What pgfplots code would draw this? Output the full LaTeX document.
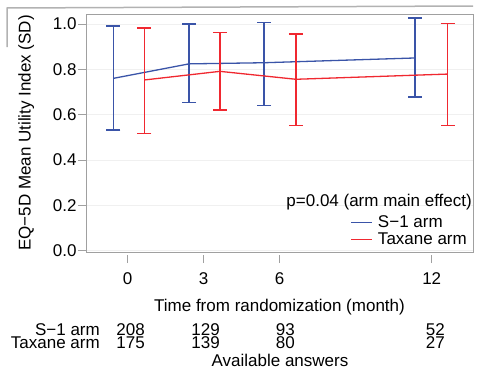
\documentclass[border=0pt]{standalone}
\usepackage{pgfplots}
\pgfplotsset{compat=1.18}
\usepackage{fontspec}
\setmainfont{Liberation Sans}
\definecolor{sblue}{RGB}{58,84,168}
\definecolor{tred}{RGB}{240,40,48}
\definecolor{boxgray}{RGB}{160,160,160}
\begin{document}
\begin{tikzpicture}[font=\fontsize{17}{20}\selectfont]
\useasboundingbox (0,0) rectangle (478pt,-372pt);
\clip (0,0) rectangle (478pt,-372pt);
\draw[gray!60, line width=1.5pt] (7pt,-47pt) -- (7pt,-8pt) -- (473pt,-6pt);
\begin{axis}[
  scale only axis, width=387pt, height=238pt,
  at={(86pt,-252pt)}, anchor=south west,
  xmin=-1.646, xmax=13.63, ymin=-0.006, ymax=1.044,
  axis line style={boxgray, line width=0.8pt},
  xtick={0,3,6,12}, ytick={0,0.2,0.4,0.6,0.8,1.0},
  tick align=outside,
  xtick pos=bottom, ytick pos=left,
  major tick length=8pt,
  xtick style={boxgray, line width=0.8pt, yshift=-3pt},
  ytick style={boxgray, line width=0.8pt},
  ymajorgrids, grid style={gray!12, line width=0.6pt},
  /pgf/number format/assume math mode=true,
  yticklabel style={xshift=2pt, /pgf/number format/.cd, fixed, fixed zerofill, precision=1},
  xticklabel style={anchor=base, yshift=-24pt},
  every axis y label/.style={at={(axis description cs:-0.143,0.5)}, rotate=90, anchor=base},
  every axis x label/.style={at={(axis description cs:0.5,-0.248)}, anchor=base},
  ylabel={EQ−5D Mean Utility Index (SD)},
  xlabel={Time from randomization (month)},
  legend image code/.code={\draw[#1, line width=1.3pt] (0pt,0pt) -- (21pt,0pt); \path (26pt,0pt);},
  legend style={draw=none, fill=none, inner sep=0pt, at={(axis description cs:1,0)}, anchor=south east, xshift=-6pt, yshift=6pt, row sep=3.5pt, nodes={inner sep=0pt}},
  legend cell align=left,
]
\addplot[sblue, line width=1.3pt, error bars/.cd, y dir=both, y explicit,
  error bar style={sblue, line width=1.4pt}, error mark options={rotate=90, sblue, line width=1.4pt, mark size=7pt}]
coordinates {
 (-0.57,0.760) += (0,0.231) -= (0,0.228)
 (2.42,0.824) += (0,0.176) -= (0,0.171)
 (5.38,0.829) += (0,0.178) -= (0,0.188)
 (11.34,0.850) += (0,0.176) -= (0,0.173)
};
\addplot[tred, line width=1.3pt, error bars/.cd, y dir=both, y explicit,
  error bar style={tred, line width=1.4pt}, error mark options={rotate=90, tred, line width=1.4pt, mark size=7pt}]
coordinates {
 (0.66,0.753) += (0,0.229) -= (0,0.235)
 (3.64,0.791) += (0,0.172) -= (0,0.170)
 (6.64,0.756) += (0,0.200) -= (0,0.203)
 (12.63,0.779) += (0,0.224) -= (0,0.226)
};
\legend{S−1 arm, Taxane arm}
\end{axis}
\node[anchor=base east, inner sep=0pt] at (472pt,-206pt) {p=0.04 (arm main effect)};
\node[anchor=base east, inner sep=0pt] at (100pt,-335pt) {S−1 arm};
\node[anchor=base east, inner sep=0pt] at (100pt,-348pt) {Taxane arm};
\node[anchor=base east, inner sep=0pt] at (145pt,-335pt) {208};
\node[anchor=base east, inner sep=0pt] at (220pt,-335pt) {129};
\node[anchor=base east, inner sep=0pt] at (295pt,-335pt) {93};
\node[anchor=base east, inner sep=0pt] at (445pt,-335pt) {52};
\node[anchor=base east, inner sep=0pt] at (145pt,-348pt) {175};
\node[anchor=base east, inner sep=0pt] at (220pt,-348pt) {139};
\node[anchor=base east, inner sep=0pt] at (295pt,-348pt) {80};
\node[anchor=base east, inner sep=0pt] at (445pt,-348pt) {27};
\node[anchor=base, inner sep=0pt] at (280pt,-366.5pt) {Available answers};
\end{tikzpicture}
\end{document}
